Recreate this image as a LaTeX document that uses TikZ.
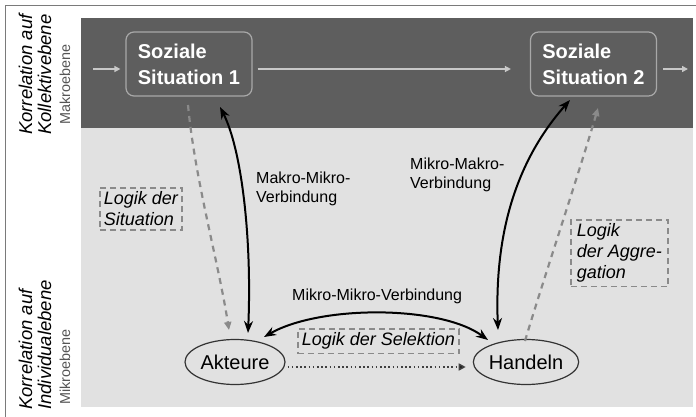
\documentclass[tikz,border=0pt]{standalone}
\usepackage{fontspec}
\setmainfont{Liberation Sans}
\usetikzlibrary{arrows.meta,shapes.geometric,calc}
\definecolor{darkbg}{HTML}{5E5E5E}
\definecolor{lightbg}{HTML}{E1E1E1}
\definecolor{frameg}{HTML}{7A7A7A}
\definecolor{boxline}{HTML}{A8A8A8}
\definecolor{toparr}{HTML}{C8C8C8}
\definecolor{dashg}{HTML}{8A8A8A}
\definecolor{sidegray}{HTML}{555555}
\tikzset{
  sitbox/.style={draw=boxline, line width=1.2pt, rounded corners=8pt,
    minimum width=126pt, minimum height=64pt, align=left, text=white,
    font=\bfseries\fontsize{20}{26}\selectfont},
  actor/.style={ellipse, draw=black!80, line width=1.2pt, minimum width=100pt,
    minimum height=45pt, inner sep=0pt, font=\fontsize{20}{24}\selectfont},
  toparrow/.style={draw=toparr, line width=1.6pt, -{Triangle[length=6pt,width=6pt]}},
  solidconn/.style={draw=black, line width=2pt,
    {Stealth[length=12pt,width=9pt]}-{Stealth[length=12pt,width=9pt]}},
  logicconn/.style={draw=dashg, line width=2.2pt, dash pattern=on 6pt off 5pt,
    -{Triangle[length=8pt,width=7pt]}},
  logicbox/.style={draw=dashg, line width=1.5pt, dash pattern=on 6pt off 4pt,
    align=left, inner sep=4pt, font=\itshape\fontsize{18}{21}\selectfont},
  linklabel/.style={align=left, inner sep=0pt, font=\fontsize{16}{19}\selectfont},
  sidemain/.style={rotate=90, anchor=base west, inner sep=0pt,
    font=\itshape\fontsize{18.5}{20}\selectfont},
  sidesub/.style={rotate=90, anchor=base west, inner sep=0pt, text=sidegray,
    font=\fontsize{14.4}{16}\selectfont},
  selarrow/.style={draw=black!75, line width=1.6pt, dash pattern=on 1.6pt off 2.6pt,
    -{Triangle[length=7pt,width=7pt,fill=black]}}
}
\begin{document}
\begin{tikzpicture}[x=1pt,y=-1pt]
\useasboundingbox (0,0) rectangle (696,417);
\fill[white] (0,0) rectangle (696,417);
\draw[frameg, line width=1pt] (5,417) -- (5,6) -- (696,6);
\fill[darkbg] (81,18) rectangle (693,128);
\fill[lightbg] (81,128) rectangle (693,407);

% side labels
\node[sidemain] (kol1) at (32,135) {Korrelation auf};
\node[sidemain] (kol2) at (51,135) {Kollektivebene};
\node[sidesub] (makro) at (70,125) {Makroebene};
\node[sidemain] (ind1) at (32,410) {Korrelation auf};
\node[sidemain] (ind2) at (51,410) {Individualebene};
\node[sidesub] (mikro) at (70,405) {Mikroebene};

% main nodes
\node[sitbox] (s1) at (189,64) {Soziale\\Situation 1};
\node[sitbox] (s2) at (593.5,64) {Soziale\\Situation 2};
\node[actor] (a) at (235,362) {Akteure};
\node[actor] (h) at (526,362) {Handeln};

% top arrows
\coordinate (inS) at (93,69);
\coordinate (outS) at (688,69);
\draw[toparrow, shorten >=5pt] (inS) -- ([yshift=-5pt]s1.west);
\draw[toparrow, shorten <=5pt, shorten >=19pt] ([yshift=-5pt]s1.east) -- ([yshift=-5pt]s2.west);
\draw[toparrow, shorten <=6pt] ([yshift=-5pt]s2.east) -- (outS);

% logic boxes
\node[logicbox, anchor=north west] (ls) at (99,187) {Logik der\\Situation};
\node[logicbox, anchor=north west, inner xsep=6pt] (la) at (570,219) {Logik\\der Aggre-\\gation};
\node[logicbox, anchor=north west] (lsel) at (297,328) {Logik der Selektion};

% link labels
\node[linklabel, anchor=base west] (mmk) at (256,202) {Makro-Mikro-\\Verbindung};
\node[linklabel, anchor=base west] (mkm) at (410,188) {Mikro-Makro-\\Verbindung};
\node[linklabel, anchor=base west] (mmm) at (292,300) {Mikro-Mikro-Verbindung};

% connectors
\coordinate (mmTop) at (220,107);
\coordinate (mmBot) at (248,333);
\draw[solidconn] (mmTop) .. controls (242,150) and (252,240) .. (mmBot);
\coordinate (mkBot) at (498,330);
\coordinate (mkTop) at (570,100);
\draw[solidconn] (mkBot) .. controls (495,250) and (508,170) .. (mkTop);
\coordinate (miL) at (264,337);
\coordinate (miR) at (488,340);
\draw[solidconn] (miL) .. controls (320,305) and (440,305) .. (miR);

\coordinate (lsTop) at (188,105);
\coordinate (lsBot) at (229,330);
\draw[logicconn] (lsTop) .. controls (195,180) and (218,260) .. (lsBot);
\coordinate (laTop) at (598,108);
\coordinate (laBot) at (525,341);
\draw[logicconn] (laBot) .. controls (540,290) and (580,170) .. (laTop);

\draw[selarrow, shorten <=2pt, shorten >=7pt]
  ([yshift=-5pt]a.east) -- ([yshift=-5pt]h.west);
\end{tikzpicture}
\end{document}
